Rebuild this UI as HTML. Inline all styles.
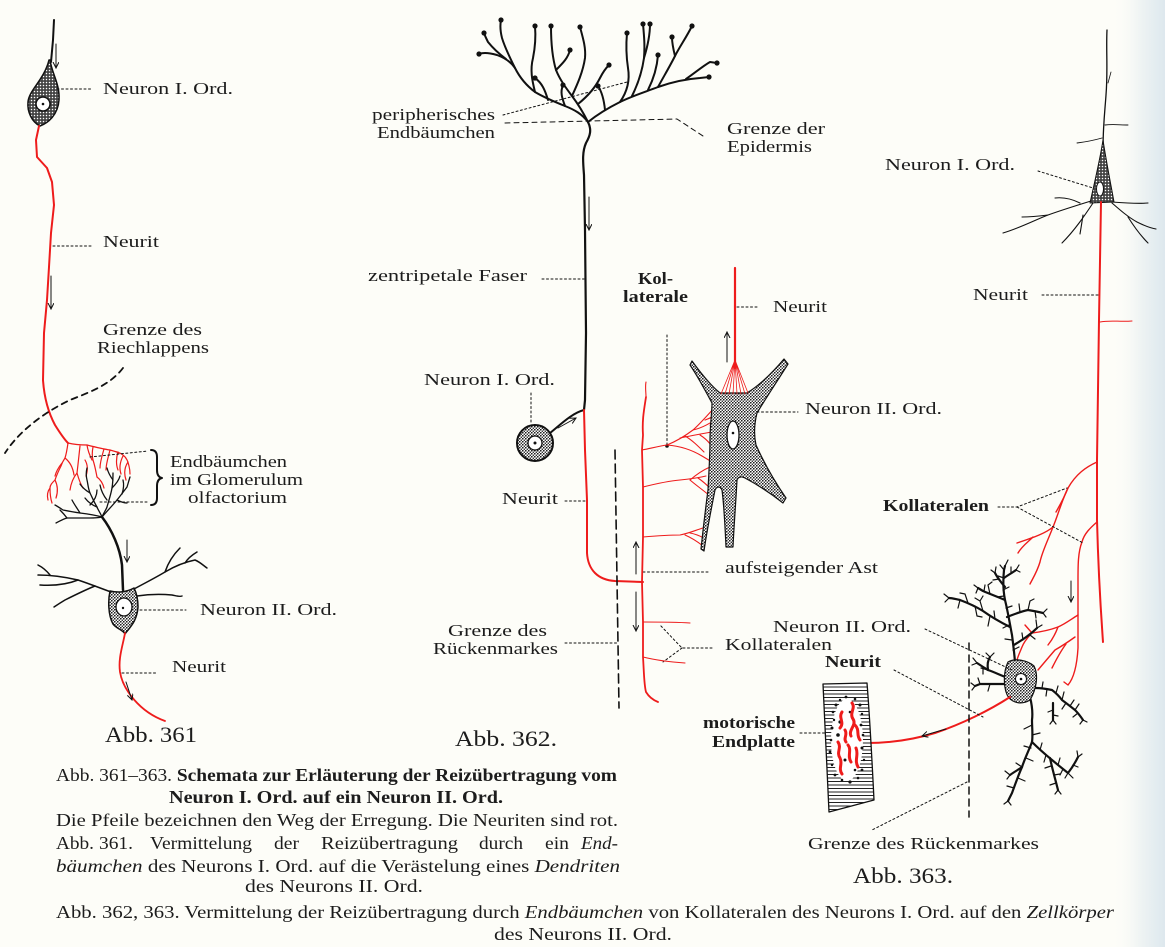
<!DOCTYPE html>
<html><head><meta charset="utf-8">
<style>
html,body{margin:0;padding:0;background:#fdfdf8;}
svg{display:block;}
text{font-family:"Liberation Serif",serif;fill:#1c1c1c;}
</style></head><body>
<svg width="1165" height="947" viewBox="0 0 1165 947" xmlns="http://www.w3.org/2000/svg">
<defs>
 <linearGradient id="edge" x1="0" x2="1" y1="0" y2="0">
   <stop offset="0" stop-color="#fdfdf8" stop-opacity="0"/>
   <stop offset="0.55" stop-color="#eef3f3"/>
   <stop offset="1" stop-color="#dde8ee"/>
 </linearGradient>
 <pattern id="st" width="3" height="3" patternUnits="userSpaceOnUse">
   <rect width="3" height="3" fill="#fff"/>
   <circle cx="0.8" cy="0.8" r="0.85" fill="#111"/>
   <circle cx="2.3" cy="2.2" r="0.75" fill="#111"/>
 </pattern>
 <pattern id="st2" width="3" height="3" patternUnits="userSpaceOnUse">
   <rect width="3" height="3" fill="#444"/>
   <circle cx="1.5" cy="1.5" r="0.75" fill="#fff"/>
 </pattern>
 <marker id="a" markerWidth="8" markerHeight="8" refX="6" refY="3" orient="auto" markerUnits="userSpaceOnUse">
   <path d="M0,0 L6,3 L0,6" fill="none" stroke="#111" stroke-width="1"/>
 </marker>
 <clipPath id="mus"><path d="M823,684 L867,683 C870,720 872,760 874,800 L829,812 C827,770 825,725 823,684 Z"/></clipPath>
</defs>
<rect width="1165" height="947" fill="#fdfdf8"/>
<rect x="1112" y="0" width="53" height="947" fill="url(#edge)"/>

<!-- ================= Abb. 361 ================= -->
<g fill="none" stroke="#111" stroke-linecap="round" stroke-linejoin="round">
 <path d="M54,20 L53,40 L51,62" stroke-width="2"/>
 <path d="M50,60 C52,74 60,84 59,100 C58,115 48,123 40,126 C32,122 27,112 28,102 C29,90 44,80 49,60 Z" fill="url(#st2)" stroke-width="1.5"/>
 <circle cx="43" cy="104" r="7" fill="#fff" stroke-width="1.5"/>
 <circle cx="43" cy="104" r="1.3" fill="#111" stroke="none"/>
 <path d="M56,44 L56,68" stroke-width="1" marker-end="url(#a)"/>
 <path d="M39,126 L36,140 L37,157 L47,168 L52,182 L54,205 L51,233 L49,267 L47,300 L44,333 L43,380 C44,395 47,410 55,425 C60,433 65,440 68,443" stroke="#ee1c1c" stroke-width="2"/>
 <g stroke="#ee1c1c" stroke-width="1.2">
  <path d="M68,443 C76,445 82,445 87,445 C95,447 103,449 110,450 C117,452 121,453 123,455 C127,458 128,462 129,466 C130,470 130,472 130,474"/>
  <path d="M68,443 C67,450 66,455 65,458 C63,461 62,463 61,466 C58,472 56,477 55,480 C52,483 50,485 50,488 C50,495 51,500 52,503"/>
  <path d="M80,446 C79,455 78,465 77,473 C79,480 81,485 83,488"/>
  <path d="M93,447 C92,452 92,456 93,460 C95,466 96,472 97,477"/>
  <path d="M65,458 C70,462 73,468 74,475"/>
  <path d="M62,463 C58,468 56,472 55,476"/>
  <path d="M87,445 C88,452 90,456 92,460"/>
  <path d="M110,450 C108,458 106,464 106,470"/>
  <path d="M104,449 C102,456 100,462 100,468"/>
  <path d="M118,452 C116,458 116,465 118,470"/>
  <path d="M123,456 C120,462 119,468 121,474"/>
  <path d="M55,480 C58,486 58,492 56,498"/>
  <path d="M77,473 C73,478 71,483 70,490"/>
  <path d="M97,477 C101,480 103,484 104,488"/>
  <path d="M85,460 C88,465 88,470 86,476"/>
  <path d="M128,462 C124,468 124,474 126,480"/>
  <path d="M50,488 C47,492 47,496 48,500"/>
 </g>
 <g stroke-width="1.3">
  <path d="M102,517 C100,512 98,510 97,507 C94,502 92,497 90,493 C88,488 88,484 87,480 C86,476 86,472 87,468"/>
  <path d="M102,517 C104,512 106,510 107,507 C109,500 111,494 112,488 C113,482 113,478 113,473"/>
  <path d="M102,517 C108,510 113,505 117,500 C121,495 124,491 127,487 C128,484 129,480 130,477"/>
  <path d="M102,517 C95,515 88,514 80,513 C73,512 68,511 63,510 C60,508 57,506 55,505"/>
  <path d="M102,517 C97,518 93,518 90,518 C82,518 74,518 67,518 C63,519 60,521 56,523"/>
  <path d="M97,507 C92,505 88,502 85,498"/>
  <path d="M90,493 C85,490 82,487 80,484"/>
  <path d="M112,488 C116,484 119,480 120,476"/>
  <path d="M107,500 C103,495 101,490 100,485"/>
  <path d="M117,500 C121,502 124,503 127,503"/>
  <path d="M80,513 C77,508 74,504 72,500"/>
  <path d="M113,480 C110,476 108,472 107,468"/>
  <path d="M90,505 C95,500 97,495 97,490"/>
  <path d="M122,494 C124,488 124,484 123,480"/>
  <path d="M67,518 C64,514 62,512 60,510"/>
 </g>
 <path d="M102,517 C112,530 120,548 122,565 L123,590" stroke-width="2.5"/>
 <path d="M127,540 L127,562" stroke-width="1" marker-end="url(#a)"/>
 <path d="M110,591 C108,600 108,615 113,624 C117,629 123,630 125,634 C129,628 137,622 138,607 C138,597 136,592 134,588 C127,592 118,593 110,591 Z" fill="url(#st)" stroke-width="1.5"/>
 <ellipse cx="124" cy="607" rx="8" ry="9" fill="#fff" stroke-width="1.3"/>
 <circle cx="123" cy="608" r="1.2" fill="#111" stroke="none"/>
 <g stroke-width="1.5">
  <path d="M111,592 C100,588 90,584 78,580 C65,577 52,575 38,575"/>
  <path d="M78,580 C68,584 55,586 40,585"/>
  <path d="M95,586 C85,590 75,595 65,600 C60,603 57,605 54,607"/>
  <path d="M134,589 C145,583 155,578 165,572 C175,566 185,562 195,560 C200,562 204,566 207,568"/>
  <path d="M165,572 C168,563 173,555 180,548"/>
  <path d="M185,563 C188,558 192,555 197,552"/>
  <path d="M137,596 C150,594 162,594 172,595 C177,596 180,597 182,596"/>
  <path d="M50,575 C46,570 42,567 38,565"/>
 </g>
 <path d="M125,633 C123,645 118,658 120,672 C123,690 140,712 165,721" stroke="#ee1c1c" stroke-width="1.8"/>
 <path d="M126,682 L132,700" stroke-width="1" marker-end="url(#a)"/>
 <path d="M151,450 Q157,450 157,457 L157,470 Q157,477 162,478 Q157,479 157,486 L157,498 Q157,505 151,505" stroke-width="2"/>
 <g stroke-width="1" stroke-dasharray="2,2.5">
  <line x1="57" y1="89" x2="91" y2="89"/>
  <line x1="53" y1="246" x2="92" y2="246"/>
  <line x1="90" y1="457" x2="148" y2="451"/>
  <line x1="100" y1="502" x2="148" y2="502"/>
  <line x1="140" y1="610" x2="186" y2="610"/>
  <line x1="122" y1="673" x2="156" y2="673"/>
 </g>
 <path d="M51,276 L51,309" stroke-width="1" marker-end="url(#a)"/>
 <path d="M123,368 C110,385 90,392 70,400 C45,412 20,430 5,453" stroke-width="1.8" stroke-dasharray="6,5"/>
</g>

<!-- ================= Abb. 362 ================= -->
<g fill="none" stroke="#111" stroke-linecap="round" stroke-linejoin="round">
 <path d="M588,122 C592,130 590,136 586,143 C582,152 583,162 584,175 L585,230 L586,333 L585,400 L584,410" stroke-width="2.2"/>
 <g stroke-width="2">
  <path d="M588,122 C582,114 575,110 565,106 C555,102 545,98 535,92 C527,86 520,78 515,68 C511,62 505,58 497,55 C490,53 484,52 479,54"/>
  <path d="M515,68 C510,58 505,48 502,38 C500,30 500,25 501,20"/>
  <path d="M506,59 C498,53 492,47 488,42 C486,38 485,36 484,33"/>
  <path d="M535,92 C532,80 530,70 533,58 C535,48 536,38 535,26"/>
  <path d="M548,100 C545,90 542,83 535,78"/>
  <path d="M588,122 C583,112 578,104 572,96 C566,88 560,80 556,70 C553,60 551,45 551,26"/>
  <path d="M572,96 C577,85 583,72 585,58 C586,48 583,38 580,27"/>
  <path d="M578,104 C588,96 595,88 600,78 C603,72 606,68 609,65"/>
  <path d="M556,70 C563,63 568,58 570,50"/>
  <path d="M588,122 C598,114 608,108 620,102 C632,96 645,92 658,87 C672,82 686,79 700,78 L709,77"/>
  <path d="M620,102 C627,92 630,80 628,68 C626,55 626,44 627,33"/>
  <path d="M632,96 C638,84 642,72 644,58 C645,45 644,35 643,24"/>
  <path d="M644,58 C648,45 650,35 650,24"/>
  <path d="M658,87 C664,76 670,66 675,56 C680,46 686,38 692,26"/>
  <path d="M675,56 C673,48 672,42 672,37"/>
  <path d="M686,79 C696,72 703,66 710,62 L717,63"/>
  <path d="M605,110 C604,100 602,92 598,86"/>
  <path d="M648,90 C653,80 657,68 658,55"/>
  <path d="M565,106 C562,98 560,92 563,85"/>
 </g>
 <g fill="#111" stroke="none">
  <circle cx="479" cy="54" r="2.6"/><circle cx="501" cy="20" r="2.6"/><circle cx="484" cy="33" r="2.6"/>
  <circle cx="535" cy="26" r="2.6"/><circle cx="535" cy="78" r="2.6"/><circle cx="551" cy="26" r="2.6"/>
  <circle cx="580" cy="27" r="2.6"/><circle cx="609" cy="65" r="2.6"/><circle cx="570" cy="50" r="2.6"/>
  <circle cx="709" cy="77" r="2.6"/><circle cx="627" cy="33" r="2.6"/><circle cx="643" cy="24" r="2.6"/>
  <circle cx="650" cy="24" r="2.6"/><circle cx="692" cy="26" r="2.6"/><circle cx="672" cy="37" r="2.6"/>
  <circle cx="717" cy="63" r="2.6"/><circle cx="598" cy="86" r="2.6"/><circle cx="658" cy="55" r="2.6"/>
  <circle cx="563" cy="85" r="2.6"/>
 </g>
 <g stroke-width="1" stroke-dasharray="2,2.5">
  <line x1="503" y1="115" x2="627" y2="82"/>
  <line x1="542" y1="279" x2="584" y2="279"/>
  <line x1="531" y1="393" x2="531" y2="423"/>
  <line x1="565" y1="501" x2="587" y2="501"/>
  <line x1="667" y1="335" x2="667" y2="445"/>
  <line x1="737" y1="307" x2="758" y2="307"/>
  <line x1="748" y1="412" x2="798" y2="412"/>
  <line x1="643" y1="572" x2="710" y2="572"/>
  <line x1="565" y1="643" x2="617" y2="643"/>
  <path d="M712,648 L682,648 L660,625 M682,648 L663,662"/>
 </g>
 <path d="M505,123 L677,119 L703,136" stroke-width="1" stroke-dasharray="5,4"/>
 <circle cx="667" cy="446" r="1.8" fill="#111" stroke="none"/>
 <path d="M589,197 L589,230" stroke-width="1" marker-end="url(#a)"/>
 <circle cx="535" cy="443" r="18" fill="url(#st)" stroke-width="2"/>
 <circle cx="535" cy="443" r="7" fill="#fff" stroke-width="1.3"/>
 <circle cx="535" cy="443" r="1.5" fill="#111" stroke="none"/>
 <path d="M550,433 C560,425 572,413 584,410" stroke-width="2"/>
 <path d="M558,428 L576,418" stroke-width="1" marker-end="url(#a)"/>
 <path d="M584,410 L585,450 L587,500 L587,553 C588,570 598,580 615,581 L643,582" stroke="#ee1c1c" stroke-width="2"/>
 <path d="M646,397 C644,410 642,420 643,435 L642,450 L643,487 L643,537 L642,582 L643,622 L643,657 C644,672 644,685 646,692 C649,697 653,700 658,702" stroke="#ee1c1c" stroke-width="1.8"/>
 <g stroke="#ee1c1c" stroke-width="1.1">
  <path d="M642,450 C652,448 660,446 667,445 C677,441 685,436 693,430 C702,422 710,412 718,404 L725,396"/>
  <path d="M680,438 C690,436 700,434 712,432"/>
  <path d="M693,430 C702,428 710,424 720,416"/>
  <path d="M667,445 C680,446 692,450 702,456 L712,462"/>
  <path d="M700,435 C708,440 713,446 716,455"/>
  <path d="M705,420 C710,418 716,416 722,410"/>
  <path d="M710,425 C714,430 718,436 720,445"/>
  <path d="M685,436 C692,440 698,446 704,452"/>
  <path d="M712,432 C716,433 720,434 724,436"/>
  <path d="M643,487 C655,484 668,481 680,480 C690,479 698,478 706,476"/>
  <path d="M690,480 C697,474 703,470 710,467"/>
  <path d="M690,480 C697,486 703,490 710,496"/>
  <path d="M698,478 C704,482 708,486 712,490"/>
  <path d="M643,537 C655,536 668,535 680,535 C690,533 696,530 703,528"/>
  <path d="M685,535 C692,538 698,542 703,546"/>
  <path d="M690,533 C696,534 700,536 704,538"/>
  <path d="M643,622 C658,622 675,622 690,623"/>
  <path d="M643,657 C655,660 670,662 685,663"/>
  <path d="M646,397 C646,392 645,387 646,382"/>
 </g>
 <path d="M615,450 L617,580 L619,708" stroke-width="1.6" stroke-dasharray="9,5"/>
 <path d="M636,574 L636,542" stroke-width="1" marker-end="url(#a)"/>
 <path d="M636,592 L636,631" stroke-width="1" marker-end="url(#a)"/>
 <path d="M692,361 C700,372 710,385 720,393 L747,393 C760,385 773,372 784,359 L788,364 C778,380 766,398 757,413 C754,425 754,436 756,445 C765,465 777,485 786,498 L783,503 C773,495 758,485 745,478 C741,476 738,477 737,480 C736,500 734,525 733,547 L726,547 C725,525 724,505 722,490 C720,486 717,486 715,490 C711,510 707,530 704,551 L701,549 C703,530 706,505 708,490 C709,470 710,455 710,440 C710,425 712,412 712,403 C705,390 697,375 690,365 Z" fill="url(#st)" stroke-width="1.2"/>
 <ellipse cx="733" cy="435" rx="6" ry="14" fill="#fff" stroke-width="1.3"/>
 <circle cx="733" cy="433" r="1.3" fill="#111" stroke="none"/>
 <path d="M735,268 L735,368" stroke="#ee1c1c" stroke-width="2.2"/>
 <g stroke="#ee1c1c" stroke-width="0.8">
  <path d="M735,360 L721,394 M735,360 L725,394 M735,360 L729,394 M735,360 L733,394 M735,360 L737,394 M735,360 L741,394 M735,360 L745,394 M735,360 L748,393"/>
 </g>
 <path d="M727,362 L727,332" stroke-width="1" marker-end="url(#a)"/>
</g>

<!-- ================= Abb. 363 ================= -->
<g fill="none" stroke="#111" stroke-linecap="round" stroke-linejoin="round">
 <path d="M1107,30 C1106,50 1108,70 1106,95 C1105,110 1103,125 1103,150" stroke-width="1.3"/>
 <path d="M1105,125 C1113,124 1120,125 1128,125" stroke-width="0.9"/>
 <path d="M1102,138 C1095,140 1085,142 1077,143" stroke-width="0.9"/>
 <path d="M1108,83 L1111,72" stroke-width="0.8"/>
 <path d="M1103,140 C1106,160 1110,180 1114,202 L1090,203 C1095,180 1100,160 1103,140 Z" fill="url(#st2)" stroke-width="1"/>
 <ellipse cx="1100" cy="189" rx="3.5" ry="7" fill="#fff" stroke-width="1"/>
 <g stroke-width="1.1">
  <path d="M1091,201 C1078,205 1062,210 1048,215 C1035,220 1020,228 1003,233"/>
  <path d="M1080,203 C1072,199 1064,197 1055,198"/>
  <path d="M1048,215 C1040,216 1030,217 1022,217"/>
  <path d="M1093,203 C1085,215 1075,230 1062,243"/>
  <path d="M1083,215 C1082,222 1081,228 1080,234"/>
  <path d="M1112,202 C1125,203 1137,204 1148,203"/>
  <path d="M1112,203 C1120,210 1128,217 1137,222 C1145,226 1150,228 1156,229"/>
  <path d="M1128,217 C1133,225 1140,235 1148,243"/>
 </g>
 <path d="M1101,202 C1100,240 1100,280 1099,320 L1097,460 L1097,520 C1098,560 1100,600 1103,642" stroke="#ee1c1c" stroke-width="2"/>
 <path d="M1100,322 C1110,320 1120,322 1132,321" stroke="#ee1c1c" stroke-width="1"/>
 <g stroke="#ee1c1c" stroke-width="1.4">
  <path d="M1097,462 C1086,467 1076,474 1068,488 C1062,500 1058,515 1053,527 C1046,533 1035,537 1017,543"/>
  <path d="M1053,527 C1048,540 1042,552 1040,562 C1037,572 1033,578 1030,584"/>
  <path d="M1068,488 C1064,498 1060,505 1056,512"/>
  <path d="M1033,537 C1028,542 1022,546 1018,553"/>
  <path d="M1097,522 C1090,528 1084,534 1082,542 C1078,552 1078,565 1078,580 L1078,648 C1077,665 1074,678 1068,685 L1064,682"/>
  <path d="M1078,615 C1070,620 1065,624 1058,627 C1050,630 1040,632 1032,633 C1027,638 1024,642 1022,647 C1020,652 1018,656 1017,660"/>
  <path d="M1075,637 C1068,642 1062,646 1055,650 C1049,657 1043,664 1038,670"/>
  <path d="M1058,627 C1055,635 1052,640 1048,645"/>
  <path d="M1032,633 L1025,625"/>
  <path d="M1066,644 C1060,652 1056,660 1052,668"/>
 </g>
 <path d="M1071,581 L1071,602" stroke-width="1" marker-end="url(#a)"/>
 <g stroke-width="2.2">
  <path d="M1015,662 C1014,650 1013,643 1012,635 C1010,625 1008,612 1005,600 C1003,590 1003,580 1004,570 L1005,566"/>
  <path d="M1010,627 C1000,622 990,616 983,611 C975,606 968,603 960,600 C955,599 952,598 949,598"/>
  <path d="M1005,600 C998,597 990,594 983,591 L978,588"/>
  <path d="M1007,617 C1015,614 1022,611 1028,610 C1034,611 1039,612 1043,613"/>
  <path d="M1005,587 C1000,581 997,577 995,573"/>
  <path d="M1004,578 C1008,575 1012,573 1016,570"/>
  <path d="M1014,645 C1022,640 1030,635 1037,628"/>
  <path d="M1008,678 C1000,675 994,672 988,670 C983,667 980,665 977,663"/>
  <path d="M1008,684 C1000,684 990,684 980,684 L975,686"/>
  <path d="M988,670 C987,664 988,660 990,657"/>
  <path d="M1030,697 C1032,705 1033,712 1032,720 C1032,728 1033,735 1032,742 C1029,750 1025,758 1022,767 C1018,776 1015,785 1012,793 L1008,801"/>
  <path d="M1032,742 C1040,750 1046,755 1052,760 C1058,765 1063,769 1068,773 C1072,768 1075,763 1078,757"/>
  <path d="M1050,758 C1052,768 1055,778 1058,790"/>
  <path d="M1036,688 C1042,688 1047,689 1052,690 C1056,693 1059,696 1062,700 C1066,703 1070,706 1075,710 C1078,713 1081,717 1083,720"/>
  <path d="M1053,703 C1053,710 1053,715 1053,720"/>
  <path d="M1022,767 C1018,770 1014,772 1010,775"/>
 </g>
 <path stroke-width="1.2" d="M1004,570 l-4,-5 M1005,566 l3,-6 M1004,578 l-6,-2 M1003,590 l6,-3 M1004,596 l-7,1 M1006,608 l6,-2 M1009,625 l-6,3 M1012,640 l-7,-1 M1013,650 l6,-3
 M983,611 l-3,-10 l-5,-3 M983,611 l-3,-10 l3,-5 M968,603 l-3,-9 M968,603 l-3,-9 l-5,-1 M960,600 l-2,8 M990,616 l-2,10 M975,606 l2,10 M975,606 l2,10 l5,1 M949,598 l-5,-4 M949,598 l-4,4 M995,619 l-1,-8
 M990,594 l-2,-9 M990,594 l-2,-9 l4,-3 M978,588 l-4,-3 M978,588 l-2,5 M984,591 l1,-6
 M1028,610 l2,-9 M1028,610 l2,-9 l4,-2 M1020,612 l-1,-8 M1043,613 l4,-4 M1043,613 l3,4 M1035,611 l1,7
 M995,573 l-4,-3 M995,573 l1,-6 M999,579 l-6,1 M1016,570 l3,-5 M1016,570 l4,2 M1011,573 l0,-6
 M1030,635 l5,4 M1037,628 l-1,-8 M1037,628 l5,-3 M1023,640 l-1,-7
 M988,670 l-7,-2 M977,663 l-4,-5 M977,663 l-5,2 M983,667 l0,7 M990,657 l-4,-4 M990,657 l4,-4
 M990,684 l-2,7 M980,684 l-2,-6 M975,686 l-4,-3 M975,686 l-3,4
 M1032,725 l-8,4 M1032,735 l8,-2 M1031,748 l-7,-2 M1026,758 l7,3 M1022,767 l-6,-4 M1018,778 l7,3 M1014,788 l-7,-2 M1008,801 l-4,3 M1008,801 l3,4 M1010,775 l-5,-4 M1010,775 l-3,4
 M1040,750 l2,-7 M1046,755 l-2,7 M1058,765 l2,-7 M1063,769 l-3,6 M1068,773 l5,5 M1068,773 l-3,5 M1078,757 l4,-3 M1078,757 l-1,-6 M1073,765 l5,2
 M1051,766 l-6,2 M1054,775 l6,-1 M1056,783 l-6,2 M1058,790 l-3,4 M1058,790 l3,4
 M1042,688 l1,-6 M1047,689 l-1,7 M1056,693 l2,-7 M1062,700 l2,-8 M1066,703 l-4,6 M1070,706 l4,-6 M1075,710 l4,-6 M1078,713 l-5,4 M1083,720 l-3,4 M1083,720 l4,2
 M1053,710 l-5,2 M1053,715 l5,1 M1053,720 l-3,4 M1053,720 l3,4"/>
 <path d="M1008,662 C1015,658 1027,660 1034,666 C1039,676 1036,690 1030,700 C1022,705 1014,703 1009,698 C1003,690 1003,672 1008,662 Z" fill="url(#st)" stroke-width="1.2"/>
 <circle cx="1021" cy="679" r="5.5" fill="#fff" stroke-width="1"/>
 <circle cx="1021" cy="679" r="1.3" fill="#111" stroke="none"/>
 <path d="M1010,697 C990,710 962,724 935,733 C912,740 890,743 867,743" stroke="#ee1c1c" stroke-width="2"/>
 <path d="M946,729 L922,736" stroke-width="1" marker-end="url(#a)"/>
 <!-- muscle -->
 <path d="M823,684 L867,683 C870,720 872,760 874,800 L829,812 C827,770 825,725 823,684 Z" fill="#fff" stroke="none"/>
 <g clip-path="url(#mus)" stroke="#222" stroke-width="0.9">
  <path d="M815,687H880M815,690.5H880M815,694H880M815,697.5H880M815,701H880M815,704.5H880M815,708H880M815,711.5H880M815,715H880M815,718.5H880M815,722H880M815,725.5H880M815,729H880M815,732.5H880M815,736H880M815,739.5H880M815,743H880M815,746.5H880M815,750H880M815,753.5H880M815,757H880M815,760.5H880M815,764H880M815,767.5H880M815,771H880M815,774.5H880M815,778H880M815,781.5H880M815,785H880M815,788.5H880M815,792H880M815,795.5H880M815,799H880M815,802.5H880M815,806H880M815,809.5H880"/>
 </g>
 <path d="M823,684 L867,683 C870,720 872,760 874,800 L829,812 C827,770 825,725 823,684 Z" stroke-width="1.3"/>
 <ellipse cx="847" cy="740" rx="16" ry="41" fill="#fff" stroke="none"/>
 <g fill="#111" stroke="none">
  <circle cx="833" cy="712" r="1.3"/><circle cx="836" cy="705" r="1.5"/><circle cx="840" cy="700" r="1.2"/>
  <circle cx="846" cy="697" r="1.4"/><circle cx="855" cy="699" r="1.3"/><circle cx="860" cy="705" r="1.5"/>
  <circle cx="862" cy="714" r="1.2"/><circle cx="861" cy="725" r="1.4"/><circle cx="863" cy="735" r="1.3"/>
  <circle cx="862" cy="748" r="1.5"/><circle cx="864" cy="760" r="1.2"/><circle cx="862" cy="770" r="1.4"/>
  <circle cx="858" cy="778" r="1.3"/><circle cx="850" cy="782" r="1.6"/><circle cx="842" cy="780" r="1.3"/>
  <circle cx="835" cy="775" r="1.4"/><circle cx="832" cy="765" r="1.2"/><circle cx="830" cy="752" r="1.4"/>
  <circle cx="831" cy="740" r="1.3"/><circle cx="832" cy="728" r="1.5"/><circle cx="834" cy="720" r="1.2"/>
  <circle cx="845" cy="760" r="1.5"/><circle cx="838" cy="735" r="1.8"/><circle cx="850" cy="712" r="1.3"/>
  <circle cx="840" cy="722" r="1.6"/><circle cx="855" cy="770" r="1.3"/>
 </g>
 <g stroke="#ee1c1c" stroke-width="3">
  <path d="M852,703 C856,708 849,713 853,719 C857,725 848,730 851,736"/>
  <path d="M842,712 C838,718 845,722 840,728"/>
  <path d="M838,742 C842,748 836,752 840,758 C843,764 838,768 842,774"/>
  <path d="M848,745 C852,750 847,756 851,762"/>
  <path d="M856,748 C859,755 854,760 858,767"/>
  <path d="M845,730 C848,735 843,738 846,742"/>
  <path d="M855,725 C860,730 856,735 860,740"/>
 </g>
 <path d="M969,643 L969,817" stroke-width="1.5" stroke-dasharray="7,5"/>
 <g stroke-width="1" stroke-dasharray="2,2.5">
  <line x1="967" y1="782" x2="872" y2="830"/>
  <line x1="925" y1="629" x2="1012" y2="670"/>
  <line x1="894" y1="670" x2="983" y2="717"/>
  <line x1="800" y1="733" x2="827" y2="733"/>
  <line x1="1038" y1="171" x2="1093" y2="188"/>
  <line x1="1042" y1="295" x2="1099" y2="295"/>
  <path d="M998,507 L1017,507 L1067,488 M1017,507 L1083,543"/>
 </g>
</g>

<!-- ================= Labels ================= -->
<g font-size="17">
 <text x="103" y="94" textLength="130" lengthAdjust="spacingAndGlyphs">Neuron I. Ord.</text>
 <text x="103" y="247" textLength="56" lengthAdjust="spacingAndGlyphs">Neurit</text>
 <text x="103" y="335" textLength="99" lengthAdjust="spacingAndGlyphs">Grenze des</text>
 <text x="97" y="353" textLength="112" lengthAdjust="spacingAndGlyphs">Riechlappens</text>
 <text x="170" y="467" textLength="117" lengthAdjust="spacingAndGlyphs">Endbäumchen</text>
 <text x="170" y="485" textLength="133" lengthAdjust="spacingAndGlyphs">im Glomerulum</text>
 <text x="188" y="503" textLength="99" lengthAdjust="spacingAndGlyphs">olfactorium</text>
 <text x="200" y="615" textLength="137" lengthAdjust="spacingAndGlyphs">Neuron II. Ord.</text>
 <text x="172" y="672" textLength="54" lengthAdjust="spacingAndGlyphs">Neurit</text>
 <text x="105" y="742" font-size="22" textLength="92" lengthAdjust="spacingAndGlyphs">Abb. 361</text>

 <text x="372" y="120" textLength="123" lengthAdjust="spacingAndGlyphs">peripherisches</text>
 <text x="377" y="138" textLength="118" lengthAdjust="spacingAndGlyphs">Endbäumchen</text>
 <text x="727" y="134" textLength="98" lengthAdjust="spacingAndGlyphs">Grenze der</text>
 <text x="727" y="152" textLength="85" lengthAdjust="spacingAndGlyphs">Epidermis</text>
 <text x="368" y="281" textLength="159" lengthAdjust="spacingAndGlyphs">zentripetale Faser</text>
 <text x="638" y="284" font-weight="bold" textLength="35" lengthAdjust="spacingAndGlyphs">Kol-</text>
 <text x="623" y="302" font-weight="bold" textLength="65" lengthAdjust="spacingAndGlyphs">laterale</text>
 <text x="773" y="312" textLength="54" lengthAdjust="spacingAndGlyphs">Neurit</text>
 <text x="424" y="385" textLength="131" lengthAdjust="spacingAndGlyphs">Neuron I. Ord.</text>
 <text x="805" y="414" textLength="137" lengthAdjust="spacingAndGlyphs">Neuron II. Ord.</text>
 <text x="502" y="504" textLength="56" lengthAdjust="spacingAndGlyphs">Neurit</text>
 <text x="725" y="573" textLength="153" lengthAdjust="spacingAndGlyphs">aufsteigender Ast</text>
 <text x="448" y="636" textLength="99" lengthAdjust="spacingAndGlyphs">Grenze des</text>
 <text x="433" y="654" textLength="125" lengthAdjust="spacingAndGlyphs">Rückenmarkes</text>
 <text x="725" y="650" textLength="107" lengthAdjust="spacingAndGlyphs">Kollateralen</text>
 <text x="455" y="746" font-size="22" textLength="102" lengthAdjust="spacingAndGlyphs">Abb. 362.</text>

 <text x="885" y="170" textLength="130" lengthAdjust="spacingAndGlyphs">Neuron I. Ord.</text>
 <text x="973" y="300" textLength="55" lengthAdjust="spacingAndGlyphs">Neurit</text>
 <text x="883" y="511" font-weight="bold" textLength="106" lengthAdjust="spacingAndGlyphs">Kollateralen</text>
 <text x="773" y="632" textLength="138" lengthAdjust="spacingAndGlyphs">Neuron II. Ord.</text>
 <text x="825" y="667" font-weight="bold" textLength="56" lengthAdjust="spacingAndGlyphs">Neurit</text>
 <text x="703" y="728" font-weight="bold" textLength="92" lengthAdjust="spacingAndGlyphs">motorische</text>
 <text x="712" y="747" font-weight="bold" textLength="83" lengthAdjust="spacingAndGlyphs">Endplatte</text>
 <text x="808" y="849" textLength="231" lengthAdjust="spacingAndGlyphs">Grenze des Rückenmarkes</text>
 <text x="853" y="883" font-size="22" textLength="100" lengthAdjust="spacingAndGlyphs">Abb. 363.</text>
</g>

<!-- ================= Captions ================= -->
<g font-size="17.5">
 <text x="56" y="781" textLength="561" lengthAdjust="spacingAndGlyphs">Abb. 361–363. <tspan font-weight="bold">Schemata zur Erläuterung der Reizübertragung vom</tspan></text>
 <text x="169" y="803" font-weight="bold" textLength="334" lengthAdjust="spacingAndGlyphs">Neuron I. Ord. auf ein Neuron II. Ord.</text>
 <text x="56" y="826" textLength="562" lengthAdjust="spacingAndGlyphs">Die Pfeile bezeichnen den Weg der Erregung. Die Neuriten sind rot.</text>
 <text x="56" y="849" textLength="38" lengthAdjust="spacingAndGlyphs">Abb.</text>
 <text x="99" y="849" textLength="34" lengthAdjust="spacingAndGlyphs">361.</text>
 <text x="150" y="849" textLength="102" lengthAdjust="spacingAndGlyphs">Vermittelung</text>
 <text x="274" y="849" textLength="25" lengthAdjust="spacingAndGlyphs">der</text>
 <text x="321" y="849" textLength="137" lengthAdjust="spacingAndGlyphs">Reizübertragung</text>
 <text x="479" y="849" textLength="44" lengthAdjust="spacingAndGlyphs">durch</text>
 <text x="545" y="849" textLength="24" lengthAdjust="spacingAndGlyphs">ein</text>
 <text x="581" y="849" font-style="italic" textLength="37" lengthAdjust="spacingAndGlyphs">End-</text>
 <text x="56" y="872" textLength="564" lengthAdjust="spacingAndGlyphs"><tspan font-style="italic">bäumchen</tspan> des Neurons I. Ord. auf die Verästelung eines <tspan font-style="italic">Dendriten</tspan></text>
 <text x="245" y="892" textLength="178" lengthAdjust="spacingAndGlyphs">des Neurons II. Ord.</text>
 <text x="56" y="918" textLength="1058" lengthAdjust="spacingAndGlyphs">Abb. 362, 363. Vermittelung der Reizübertragung durch <tspan font-style="italic">Endbäumchen</tspan> von Kollateralen des Neurons I. Ord. auf den <tspan font-style="italic">Zellkörper</tspan></text>
 <text x="494" y="940" textLength="178" lengthAdjust="spacingAndGlyphs">des Neurons II. Ord.</text>
</g>
</svg>
</body></html>
